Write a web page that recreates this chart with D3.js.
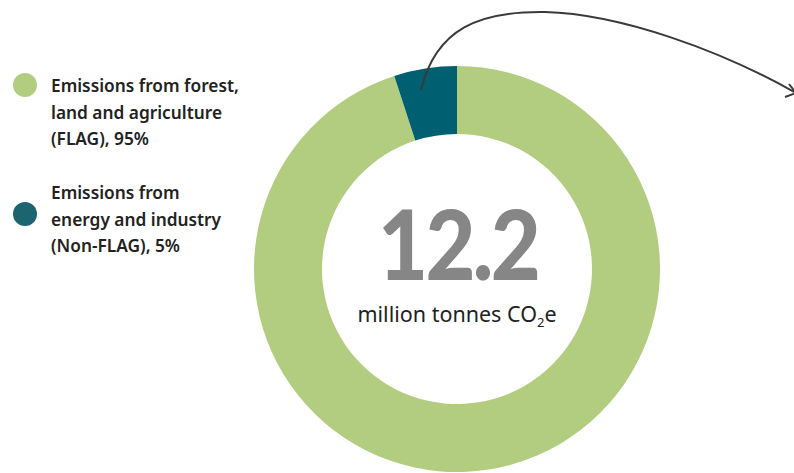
<!DOCTYPE html>
<html>
<head>
<meta charset="utf-8">
<script src="https://cdn.jsdelivr.net/npm/d3@7"></script>
<style>
  body { margin: 0; background: #fff; }
  svg { display: block; }
</style>
</head>
<body>
<svg class="chart" width="794" height="473"></svg>
<script>
const width = 794;
const height = 473;

// Data
const categories = ["FLAG", "Non-FLAG"];
const shares = [95, 5];
const legendLines = [
  ["Emissions from forest,", "land and agriculture", "(FLAG), 95%"],
  ["Emissions from", "energy and industry", "(Non-FLAG), 5%"]
];
const totalValue = "12.2";

const colors = ["#b3cd80", "#005f70"];
const legendColors = ["#b3cd80", "#1b6470"];

const cx = 457;
const cy = 269;
const outerR = 203;
const innerR = 135;

var svg = d3.select(".chart");

// donut
const pie = d3.pie().sort(null).value(d => d.value);
const arc = d3.arc().innerRadius(innerR).outerRadius(outerR);

const data = categories.map((c, i) => ({ name: c, value: shares[i] }));

const donut = svg.append("g").attr("transform", `translate(${cx}, ${cy})`);

donut
  .selectAll("path")
  .data(pie(data))
  .enter()
  .append("path")
  .attr("d", arc)
  .attr("fill", (d, i) => colors[i]);

// centre text (narrowed a bit to match the condensed look)
donut
  .append("text")
  .attr("text-anchor", "middle")
  .attr("transform", "translate(1, 11) scale(0.88, 1)")
  .style("font-family", "Lato, 'Noto Sans', sans-serif")
  .style("font-weight", 900)
  .style("font-size", "98px")
  .style("letter-spacing", "-3px")
  .style("fill", "#868686")
  .text(totalValue);

const sub = donut
  .append("text")
  .attr("text-anchor", "middle")
  .attr("y", 53)
  .style("font-family", "'Noto Sans', sans-serif")
  .style("font-size", "21.5px")
  .style("fill", "#222");
sub.append("tspan").text("million tonnes CO");
sub.append("tspan").attr("dy", 5).style("font-size", "13px").text("2");
sub.append("tspan").attr("dy", -5).text("e");

// legend
const legend = svg
  .selectAll(".legend")
  .data(legendLines)
  .enter()
  .append("g")
  .attr("transform", (d, i) => `translate(0, ${i * 107})`);

legend
  .append("circle")
  .attr("cx", 25)
  .attr("cy", (d, i) => 85 + i * 22)
  .attr("r", 12)
  .attr("fill", (d, i) => legendColors[i]);

legend
  .append("text")
  .style("font-family", "'Noto Sans', sans-serif")
  .style("font-weight", 600)
  .style("font-size", "17.3px")
  .style("fill", "#222")
  .selectAll("tspan")
  .data(d => d)
  .enter()
  .append("tspan")
  .attr("x", 51)
  .attr("y", (d, j) => 92 + j * 26.5)
  .text(d => d);

// annotation arrow
svg
  .append("path")
  .attr("d", "M421,90 C436,28 480,11 545,12 C620,14 720,50 796,93")
  .attr("fill", "none")
  .attr("stroke", "#3a3a3a")
  .attr("stroke-width", 2);

svg
  .append("path")
  .attr("d", "M785,97 L796,93 L789,84")
  .attr("fill", "none")
  .attr("stroke", "#3a3a3a")
  .attr("stroke-width", 2);
</script>
</body>
</html>
